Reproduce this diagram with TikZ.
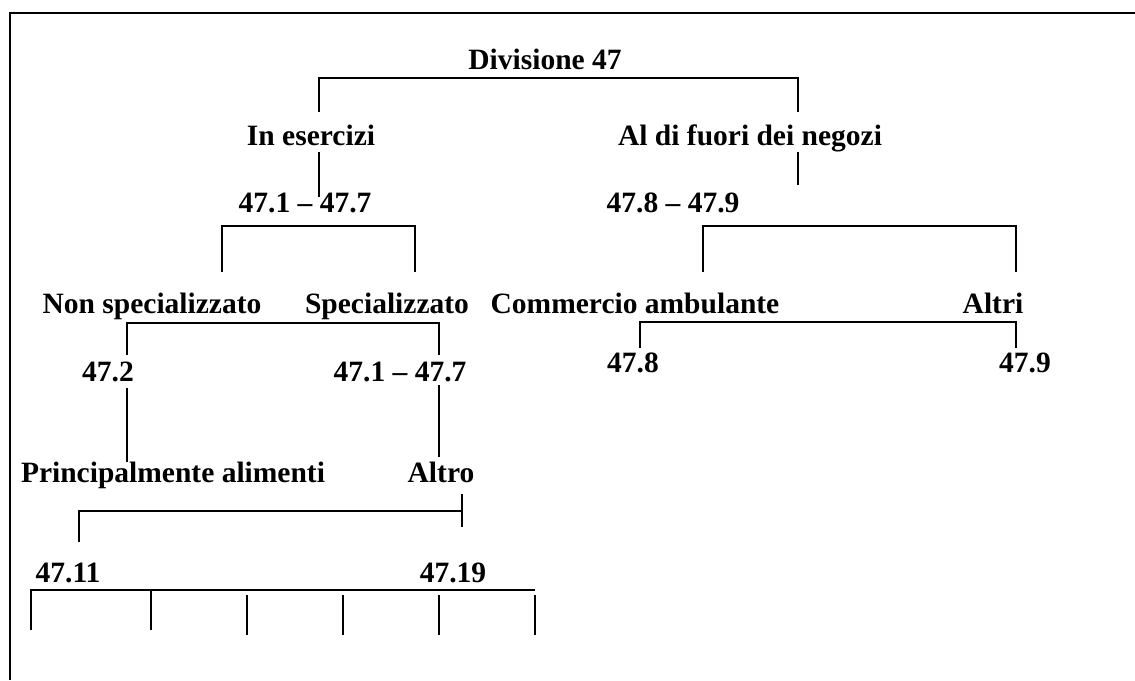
\documentclass[tikz,border=0pt]{standalone}
\usepackage{fontspec}
\setmainfont{Liberation Serif}
\usepackage{tikz}

\tikzset{lab/.style={font=\fontsize{29.5}{34}\selectfont\bfseries, inner sep=0pt, anchor=base}}

\begin{document}
\begin{tikzpicture}[x=1pt, y=-1pt, line width=1.7pt]
\useasboundingbox (0,0) rectangle (1135,680);
\draw[line width=2pt] (10,680) -- (10,13) -- (1135,13);

\node[lab](div) at (545,69) {Divisione 47};
\node[lab](ins) at (311,145) {In esercizi};
\node[lab](fuo) at (750,145) {Al di fuori dei negozi};
\node[lab](r17) at (305,212) {47.1 -- 47.7};
\node[lab](r89) at (673,212) {47.8 -- 47.9};
\node[lab](nsp) at (152,313) {Non specializzato};
\node[lab](spe) at (387,313) {Specializzato};
\node[lab](amb) at (635,313) {Commercio ambulante};
\node[lab](alt) at (993,313) {Altri};
\node[lab](c2) at (108,381) {47.2};
\node[lab](s17) at (400,381) {47.1 -- 47.7};
\node[lab](c8) at (633,372) {47.8};
\node[lab](c9) at (1025,372) {47.9};
\node[lab](ali) at (173,482) {Principalmente alimenti};
\node[lab](altro) at (441,482) {Altro};
\node[lab](c11) at (68,582) {47.11};
\node[lab](c19) at (453,582) {47.19};

\coordinate (b1) at (545,78);
\coordinate (f1a) at (319,112);
\coordinate (f1b) at (798,112);
\draw (f1a) |- (b1) -| (f1b);
\draw (319,152) -- (319,197);
\draw (798,152) -- (798,185);

\coordinate (b2) at (320,226);
\coordinate (f2a) at (222,272);
\coordinate (f2b) at (415,272);
\draw (f2a) |- (b2) -| (f2b);

\coordinate (b3) at (860,226);
\coordinate (f3a) at (703,272);
\coordinate (f3b) at (1016,272);
\draw (f3a) |- (b3) -| (f3b);

\coordinate (b4) at (280,323);
\coordinate (f4a) at (127,355);
\coordinate (f4b) at (439,355);
\draw (f4a) |- (b4) -| (f4b);

\coordinate (b5) at (830,322);
\coordinate (f5a) at (640,348);
\coordinate (f5b) at (1016,348);
\draw (f5a) |- (b5) -| (f5b);

\draw (127,388) -- (127,462);
\draw (439,385) -- (439,457);

\coordinate (f6a) at (79,542);
\coordinate (f6b) at (462,511);
\draw (f6a) |- (f6b);
\draw (462,494) -- (462,527);

\draw (31,630) -- (31,590) -- (535,590);
\draw (151,590) -- (151,630);
\draw (247,595) -- (247,635);
\draw (343,595) -- (343,635);
\draw (439,595) -- (439,635);
\draw (535,595) -- (535,635);
\end{tikzpicture}
\end{document}
